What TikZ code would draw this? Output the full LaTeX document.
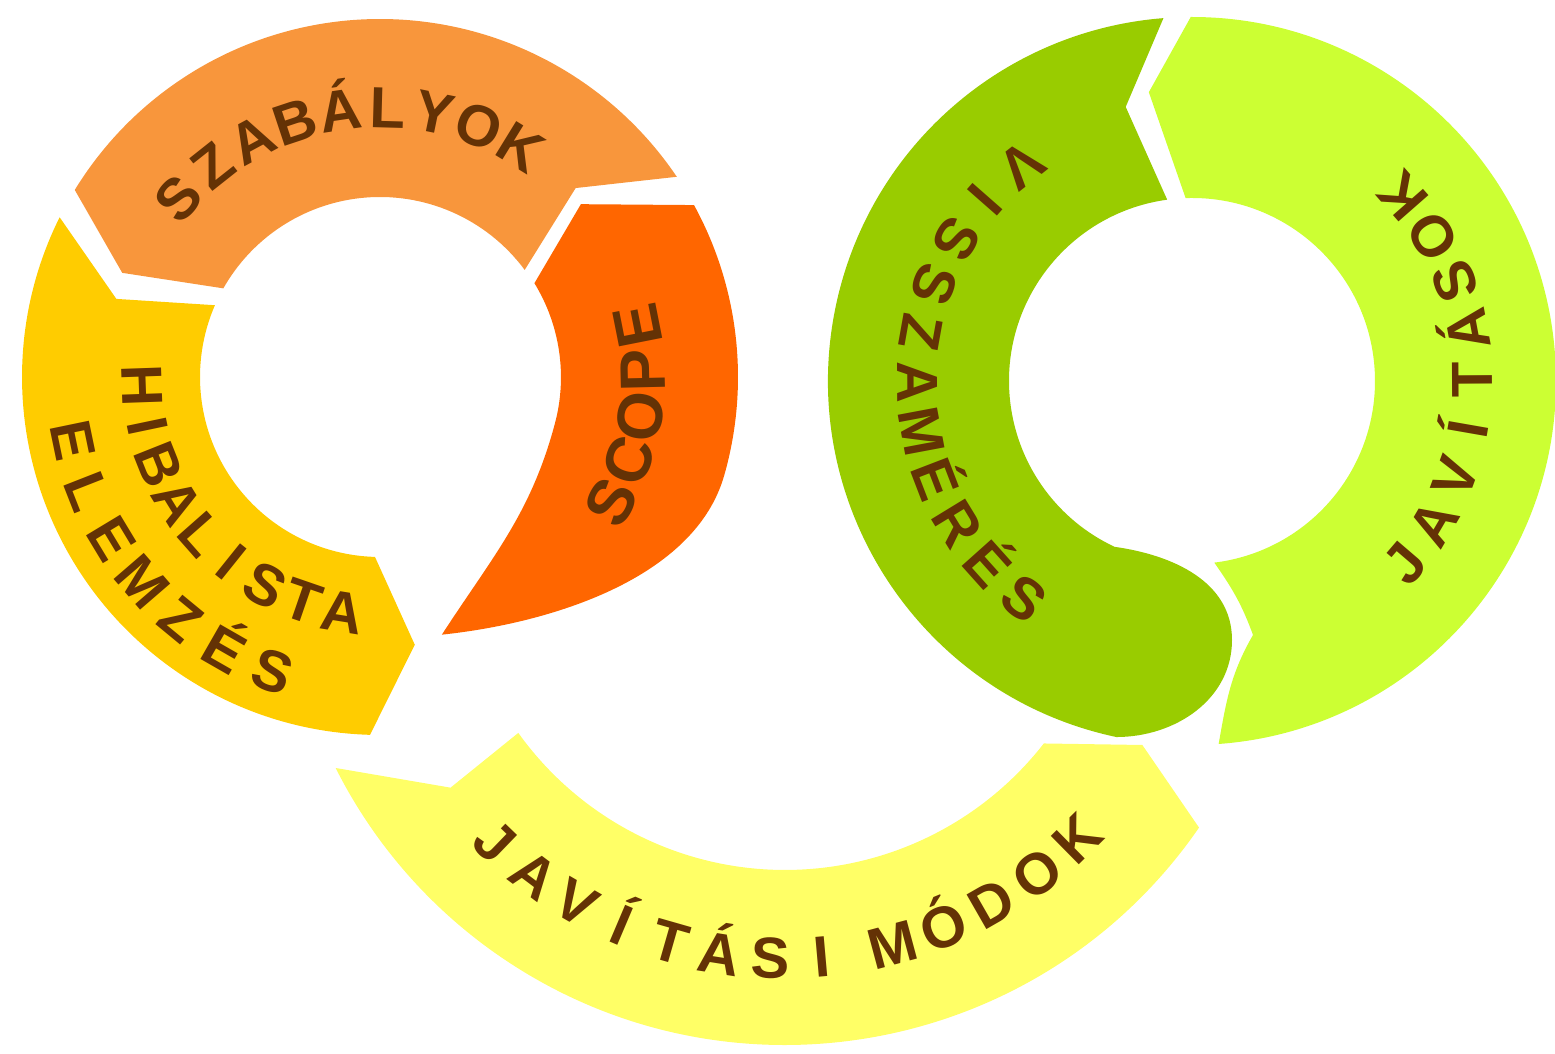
\documentclass[tikz,border=0pt]{standalone}
\usepackage{fontspec}
\setsansfont{Liberation Sans}
\definecolor{szabcolor}{RGB}{248, 150, 60}
\definecolor{scopecolor}{RGB}{255, 102, 0}
\definecolor{hibacolor}{RGB}{255, 204, 0}
\definecolor{visszcolor}{RGB}{153, 204, 0}
\definecolor{javcolor}{RGB}{204, 255, 51}
\definecolor{modcolor}{RGB}{255, 255, 102}
\definecolor{textbrown}{RGB}{100, 50, 5}
\usetikzlibrary{calc}

\begin{document}
\begin{tikzpicture}[x=0.5pt, y=0.5pt,
  letter/.style={font=\sffamily\bfseries\fontsize{29}{31}\selectfont, text=textbrown, inner sep=0pt, text height=20.8pt, text depth=0pt},
  bigletter/.style={letter, font=\sffamily\bfseries\fontsize{32}{34}\selectfont, text height=23pt}]
  \useasboundingbox (0,0) rectangle (1555,1054);
  \coordinate (lc) at (380,677);
  \coordinate (gc) at (1192,673);
  \coordinate (yc) at (785,512);

  % Left ring
  \begin{scope}[shift={(lc)}]
    % Szabalyok
    \fill[szabcolor] (34:358) -- (44:272) -- (36.5:180) arc[start angle=36.5, end angle=150.5, radius=180]
      -- (158:278) -- (148.5:358) arc[start angle=148.5, end angle=34, radius=358] -- cycle;
    % Scope
    \fill[scopecolor] (28.7:358) arc[start angle=28.7, end angle=-16, radius=358]
      to[out=-106, in=6, looseness=0.85] (-76.5:265) to[out=57, in=-105] (-15:181)
      arc[start angle=-15, end angle=31.5, radius=180] -- (40.7:265) -- cycle;
    % Hibalista
    \fill[hibacolor] (153.5:358) -- (163.5:275) -- (156.5:180) arc[start angle=156.5, end angle=268.4, radius=180]
      -- (277.4:270) -- (268.4:358) arc[start angle=268.4, end angle=153.5, radius=358] -- cycle;

    \foreach \ch [count=\i from 0] in {S,Z,A,B,Á,L,Y,O,K} {
      \pgfmathsetmacro{\a}{138.4-10*\i}
      \node[letter, rotate=\a-90] (szab\i) at (\a:270) {\ch};
    }
    \foreach \ch [count=\i from 0] in {S,C,O,P,E} {
      \pgfmathsetmacro{\a}{-28.4+9.9*\i}
      \node[bigletter, rotate=\a+90] (scope\i) at (\a:262) {\ch};
    }
    \foreach \ch [count=\i from 0] in {H,I,B,A,L,I,S,T,A} {
      \pgfmathsetmacro{\a}{182+9.85*\i}
      \node[letter, rotate=\a+90] (hiba\i) at (\a:237) {\ch};
    }
    \foreach \ch [count=\i from 0] in {E,L,E,M,Z,É,S} {
      \pgfmathsetmacro{\a}{191.7+9.7*\i}
      \node[letter, rotate=\a+90] (elem\i) at (\a:313) {\ch};
    }
  \end{scope}

  % Right ring
  \begin{scope}[shift={(gc)}]
    % Visszameres
    \fill[visszcolor] (94.5:364) -- (103.6:282) -- (97.8:183) arc[start angle=97.8, end angle=245, radius=183]
      to[out=-8, in=90] (40,-259) to[out=-90, in=0] (258:364)
      arc[start angle=258, end angle=94.5, radius=364] -- cycle;
    % Javitasok
    \fill[javcolor] (90.2:364) -- (98.5:292) -- (92:183) arc[start angle=92, end angle=-83, radius=183]
      to[out=-55, in=110] (61,-254) to[out=-120, in=80] (-85.8:364)
      arc[start angle=-85.8, end angle=90.2, radius=364] -- cycle;

    \foreach \ch [count=\i from 0] in {V,I,S,S,Z,A,M,É,R,É,S} {
      \pgfmathsetmacro{\a}{128.3+10.39*\i}
      \node[letter, rotate=\a+90] (vissz\i) at (\a:274) {\ch};
    }
    \foreach \ch [count=\i from 0] in {J,A,V,Í,T,Á,S,O,K} {
      \pgfmathsetmacro{\a}{-40.6+10.23*\i}
      \node[letter, rotate=\a+90] (jav\i) at (\a:280) {\ch};
    }
  \end{scope}

  % Bottom arc
  \begin{scope}[shift={(yc)}]
    \fill[modcolor] (206.7:503) -- (216.3:415) -- (215.6:328) arc[start angle=215.6, end angle=322.1, radius=328]
      -- (330.4:411) -- (325.4:503) arc[start angle=325.4, end angle=206.7, radius=503] -- cycle;

    \foreach \ch [count=\i from 0] in {J,A,V,Í,T,Á,S,I} {
      \pgfmathsetmacro{\a}{226+7*\i}
      \node[letter, rotate=\a+90] (javm\i) at (\a:416) {\ch};
    }
    \foreach \ch [count=\i from 0] in {M,Ó,D,O,K} {
      \pgfmathsetmacro{\a}{285+7.4*\i}
      \node[letter, rotate=\a+90] (mod\i) at (\a:416) {\ch};
    }
  \end{scope}
\end{tikzpicture}
\end{document}
